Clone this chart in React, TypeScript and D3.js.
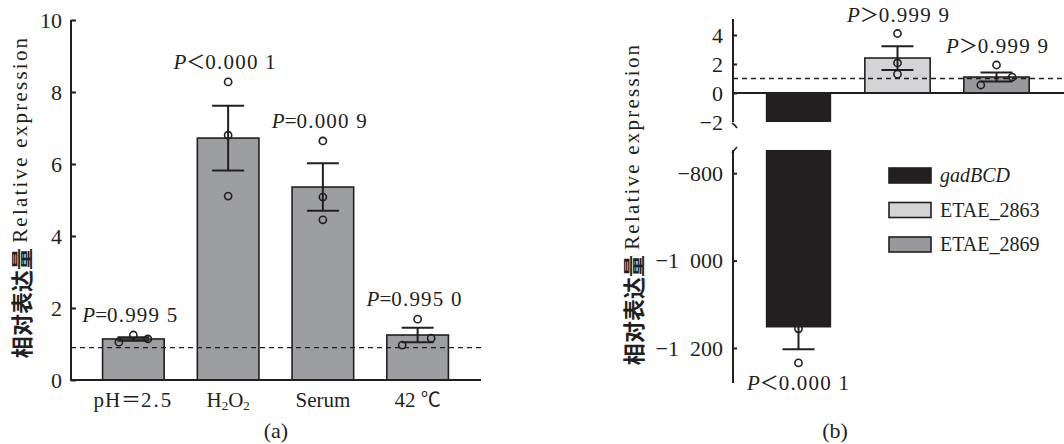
import React, { useEffect, useRef } from "react";
import * as d3 from "d3";

// panel (a)
const catsA = ["pH＝2.5", "H2O2", "Serum", "42 ℃"];
const meansA = [1.14, 6.72, 5.36, 1.25];
const semA = [0.05, 0.9, 0.66, 0.2];
const pointsA = [
  [1.05, 1.25, 1.14],
  [8.28, 6.8, 5.11],
  [6.64, 5.08, 4.45],
  [0.97, 1.69, 1.16],
];
const jitterA = [
  [-0.235, 0, 0.235],
  [0, 0, 0],
  [0, 0, 0],
  [-0.25, 0, 0.22],
];
const pSignA = ["=", "＜", "=", "="];
const pValA = ["0.999 5", "0.000 1", "0.000 9", "0.995 0"];
const ticksA = [0, 2, 4, 6, 8, 10];
const refLineA = 0.9;

// panel (b)
const catsB = ["gadBCD", "ETAE_2863", "ETAE_2869"];
const meansB = [-1153, 2.41, 1.1];
const semB = [50, 0.82, 0.31];
const pointsB = [
  [-1070, -1156, -1234],
  [4.1, 2.07, 1.3],
  [0.55, 1.93, 1.1],
];
const jitterB = [
  [0, 0, 0],
  [0, 0, 0],
  [-0.24, 0, 0.24],
];
const pSignB = ["＜", "＞", "＞"];
const pValB = ["0.000 1", "0.999 9", "0.999 9"];
const ticksUpper = [4, 2, 0, -2];
const ticksLower = [-800, -1000, -1200];
const refLineB = 1;
const colorsB = ["#231f20", "#d4d4d6", "#99999d"];

const INK = "#231f20";
const SERIF = "'Liberation Serif', 'Times New Roman', serif";
const CJK = "'Noto Sans CJK SC', sans-serif";

const fmtNeg = (d) => {
  if (d >= 0) return `${d}`;
  const a = -d;
  if (a >= 1000) return `−${Math.floor(a / 1000)}  ${String(a % 1000).padStart(3, "0")}`;
  return `−${a}`;
};

const App = () => {
  const svgRef = useRef();

  useEffect(() => {
    const width = 1064;
    const height = 444;
    const svg = d3.select(svgRef.current).attr("width", width).attr("height", height);
    svg.selectAll("*").remove();

    const pLabel = (g, x, y, sign, val) => {
      const t = g
        .append("text")
        .attr("x", x)
        .attr("y", y)
        .attr("text-anchor", "middle")
        .attr("fill", INK);
      t.append("tspan").attr("font-family", SERIF).attr("font-style", "italic").attr("font-size", 21).text("P");
      t.append("tspan")
        .attr("font-family", sign === "=" ? SERIF : CJK)
        .attr("font-size", sign === "=" ? 21 : 19)
        .text(sign);
      t.append("tspan").attr("font-family", SERIF).attr("font-size", 21).attr("letter-spacing", 1.2).text(val);
    };

    // rotated axis title, CJK + latin
    const yLabel = (x, y) => {
      const t = svg
        .append("text")
        .attr("transform", `translate(${x},${y}) rotate(-90)`)
        .attr("text-anchor", "middle")
        .attr("dominant-baseline", "central")
        .attr("fill", INK);
      t.append("tspan").attr("font-family", CJK).attr("font-size", 22).attr("font-weight", 700).text("相对表达量");
      t.append("tspan").attr("font-family", SERIF).attr("font-size", 21).text(" ");
      t.append("tspan")
        .attr("font-family", SERIF)
        .attr("font-size", 21)
        .attr("textLength", 205)
        .attr("lengthAdjust", "spacing")
        .text("Relative expression");
    };

    // ---------- panel (a)
    const gA = svg.append("g");
    const xA = d3.scaleBand().domain(catsA).range([86, 465]).paddingInner(0.35).paddingOuter(0.175);
    const yA = d3.scaleLinear().domain([0, 10]).range([380, 20]);

    gA.selectAll("rect.bar")
      .data(catsA)
      .join("rect")
      .attr("class", "bar")
      .attr("x", (d) => xA(d))
      .attr("width", xA.bandwidth())
      .attr("y", (d, i) => yA(meansA[i]))
      .attr("height", (d, i) => yA(0) - yA(meansA[i]))
      .attr("fill", "#9d9ea2")
      .attr("stroke", INK)
      .attr("stroke-width", 1.6);

    gA.append("line")
      .attr("x1", 71)
      .attr("x2", 481)
      .attr("y1", yA(refLineA))
      .attr("y2", yA(refLineA))
      .attr("stroke", INK)
      .attr("stroke-width", 1.4)
      .attr("stroke-dasharray", "5,4");

    catsA.forEach((c, i) => {
      const cx = xA(c) + xA.bandwidth() / 2;
      const hi = yA(meansA[i] + semA[i]);
      const lo = yA(meansA[i] - semA[i]);
      const cap = 16;
      gA.append("path")
        .attr("d", `M${cx},${hi}V${lo}M${cx - cap},${hi}H${cx + cap}M${cx - cap},${lo}H${cx + cap}`)
        .attr("stroke", INK)
        .attr("stroke-width", 2)
        .attr("fill", "none");
      pointsA[i].forEach((v, j) => {
        gA.append("circle")
          .attr("cx", cx + jitterA[i][j] * xA.bandwidth())
          .attr("cy", yA(v))
          .attr("r", 3.6)
          .attr("fill", "none")
          .attr("stroke", INK)
          .attr("stroke-width", 1.6);
      });
      const top = d3.min([yA(d3.max(pointsA[i])), hi]);
      pLabel(gA, cx - 3, top - 13, pSignA[i], pValA[i]);
    });

    gA.append("g")
      .attr("transform", "translate(71,0)")
      .call(d3.axisLeft(yA).tickValues(ticksA).tickSize(-5).tickPadding(9))
      .call((g) => {
        g.select(".domain").attr("stroke", INK).attr("stroke-width", 2).attr("d", `M0,${yA(10)}V${yA(0)}`);
        g.selectAll(".tick line").attr("stroke", INK).attr("stroke-width", 2);
        g.selectAll(".tick text").attr("font-family", SERIF).attr("font-size", 22).attr("fill", INK);
      });

    gA.append("line")
      .attr("x1", 70)
      .attr("x2", 481)
      .attr("y1", yA(0))
      .attr("y2", yA(0))
      .attr("stroke", INK)
      .attr("stroke-width", 2);

    // x labels
    catsA.forEach((c) => {
      const cx = xA(c) + xA.bandwidth() / 2;
      const t = gA.append("text").attr("x", cx).attr("y", 407).attr("text-anchor", "middle").attr("fill", INK).attr("font-family", SERIF).attr("font-size", 21);
      if (c === "H2O2") {
        t.append("tspan").text("H");
        t.append("tspan").attr("font-size", 13).attr("dy", 3).text("2");
        t.append("tspan").attr("dy", -3).text("O");
        t.append("tspan").attr("font-size", 13).attr("dy", 3).text("2");
      } else if (c.startsWith("pH")) {
        t.append("tspan").attr("letter-spacing", 1).text("pH");
        t.append("tspan").attr("font-family", CJK).attr("font-size", 20).text("＝");
        t.append("tspan").attr("letter-spacing", 2).text("2.5");
      } else if (c.startsWith("42")) {
        t.append("tspan").text("42  ");
        t.append("tspan").attr("font-family", CJK).attr("font-size", 20).text("℃");
      } else {
        t.text(c);
      }
    });

    gA.append("text").attr("x", 276).attr("y", 438).attr("text-anchor", "middle").attr("font-family", SERIF).attr("font-size", 22).attr("fill", INK).text("(a)");
    yLabel(20, 198);

    // ---------- panel (b)
    const gB = svg.append("g");
    const axX = 733;
    const xB = d3.scaleBand().domain(catsB).range([749, 1046]).paddingInner(0.34).paddingOuter(0.17);
    const yU = d3.scaleLinear().domain([-2, 5.1]).range([122, 19]);
    const yL = d3.scaleLinear().domain([-1280, -747]).range([383, 150]);

    // bars
    catsB.forEach((c, i) => {
      const x0 = xB(c);
      const w = xB.bandwidth();
      const m = meansB[i];
      if (m >= 0) {
        gB.append("rect")
          .attr("x", x0)
          .attr("width", w)
          .attr("y", yU(m))
          .attr("height", yU(0) - yU(m))
          .attr("fill", colorsB[i])
          .attr("stroke", INK)
          .attr("stroke-width", 1.6);
      } else {
        gB.append("rect")
          .attr("x", x0)
          .attr("width", w)
          .attr("y", yU(0))
          .attr("height", yU(-2) - yU(0))
          .attr("fill", colorsB[i]);
        gB.append("rect")
          .attr("x", x0)
          .attr("width", w)
          .attr("y", yL(-747))
          .attr("height", yL(m) - yL(-747))
          .attr("fill", colorsB[i]);
      }
    });

    gB.append("line")
      .attr("x1", axX)
      .attr("x2", width)
      .attr("y1", yU(refLineB))
      .attr("y2", yU(refLineB))
      .attr("stroke", INK)
      .attr("stroke-width", 1.4)
      .attr("stroke-dasharray", "5,4");

    gB.append("line")
      .attr("x1", axX)
      .attr("x2", width)
      .attr("y1", yU(0))
      .attr("y2", yU(0))
      .attr("stroke", INK)
      .attr("stroke-width", 2);

    catsB.forEach((c, i) => {
      const cx = xB(c) + xB.bandwidth() / 2;
      const y = meansB[i] >= 0 ? yU : yL;
      const hi = y(meansB[i] + semB[i]);
      const lo = y(meansB[i] - semB[i]);
      const cap = 16;
      gB.append("path")
        .attr("d", `M${cx},${hi}V${lo}M${cx - cap},${hi}H${cx + cap}M${cx - cap},${lo}H${cx + cap}`)
        .attr("stroke", INK)
        .attr("stroke-width", 2)
        .attr("fill", "none");
      pointsB[i].forEach((v, j) => {
        gB.append("circle")
          .attr("cx", cx + jitterB[i][j] * xB.bandwidth())
          .attr("cy", y(v))
          .attr("r", 3.6)
          .attr("fill", "none")
          .attr("stroke", INK)
          .attr("stroke-width", 1.6);
      });
      if (meansB[i] >= 0) {
        const top = d3.min([y(d3.max(pointsB[i])), hi]);
        pLabel(gB, cx + 1, top - 12, pSignB[i], pValB[i]);
      } else {
        const bottom = d3.max([y(d3.min(pointsB[i])), lo]);
        pLabel(gB, cx, bottom + 27, pSignB[i], pValB[i]);
      }
    });

    const styleAxis = (g) => {
      g.select(".domain").remove();
      g.selectAll(".tick line").attr("stroke", INK).attr("stroke-width", 2);
      g.selectAll(".tick text").attr("font-family", SERIF).attr("font-size", 22).attr("fill", INK).style("white-space", "pre");
    };

    gB.append("g")
      .attr("transform", `translate(${axX},0)`)
      .call(d3.axisLeft(yU).tickValues(ticksUpper).tickSize(-4).tickPadding(10).tickFormat(fmtNeg))
      .call(styleAxis)
      .call((g) => g.selectAll(".tick").filter((d) => d === -2).select("line").remove());

    gB.append("g")
      .attr("transform", `translate(${axX},0)`)
      .call(d3.axisLeft(yL).tickValues(ticksLower).tickSize(-4).tickPadding(10).tickFormat(fmtNeg))
      .call(styleAxis);

    // broken axis line
    gB.append("path")
      .attr("d", `M${axX},${yU(5.1)}V${yU(-2)}`)
      .attr("stroke", INK)
      .attr("stroke-width", 2)
      .attr("fill", "none");
    gB.append("path")
      .attr("d", `M${axX},${yL(-747)}V${yL(-1280)}`)
      .attr("stroke", INK)
      .attr("stroke-width", 2)
      .attr("fill", "none");
    gB.append("path")
      .attr("d", `M${axX - 1},${yU(-2) + 1}Q${axX + 2},${yU(-2) + 3} ${axX + 4},${yU(-2) + 6}`)
      .attr("stroke", INK)
      .attr("stroke-width", 1.6)
      .attr("fill", "none");
    gB.append("path")
      .attr("d", `M${axX - 1},${yL(-747) + 3}Q${axX + 2},${yL(-747) - 1} ${axX + 4},${yL(-747) - 3}`)
      .attr("stroke", INK)
      .attr("stroke-width", 1.6)
      .attr("fill", "none");

    // legend
    const leg = gB.append("g").attr("transform", "translate(889,168)");
    catsB.forEach((c, i) => {
      const row = leg.append("g").attr("transform", `translate(0,${i * 34.5})`);
      row.append("rect")
        .attr("width", 42)
        .attr("height", 15)
        .attr("fill", colorsB[i])
        .attr("stroke", INK)
        .attr("stroke-width", 1.6);
      row.append("text")
        .attr("x", 51)
        .attr("y", 14)
        .attr("font-family", SERIF)
        .attr("font-size", 20)
        .attr("font-style", i === 0 ? "italic" : "normal")
        .attr("fill", INK)
        .text(c);
    });

    gB.append("text").attr("x", 835).attr("y", 438).attr("text-anchor", "middle").attr("font-family", SERIF).attr("font-size", 22).attr("fill", INK).text("(b)");
    yLabel(632, 205);
  }, []);

  return <svg ref={svgRef} style={{ position: "absolute", left: 0, top: 0, background: "#fff" }}></svg>;
};

export default App;
